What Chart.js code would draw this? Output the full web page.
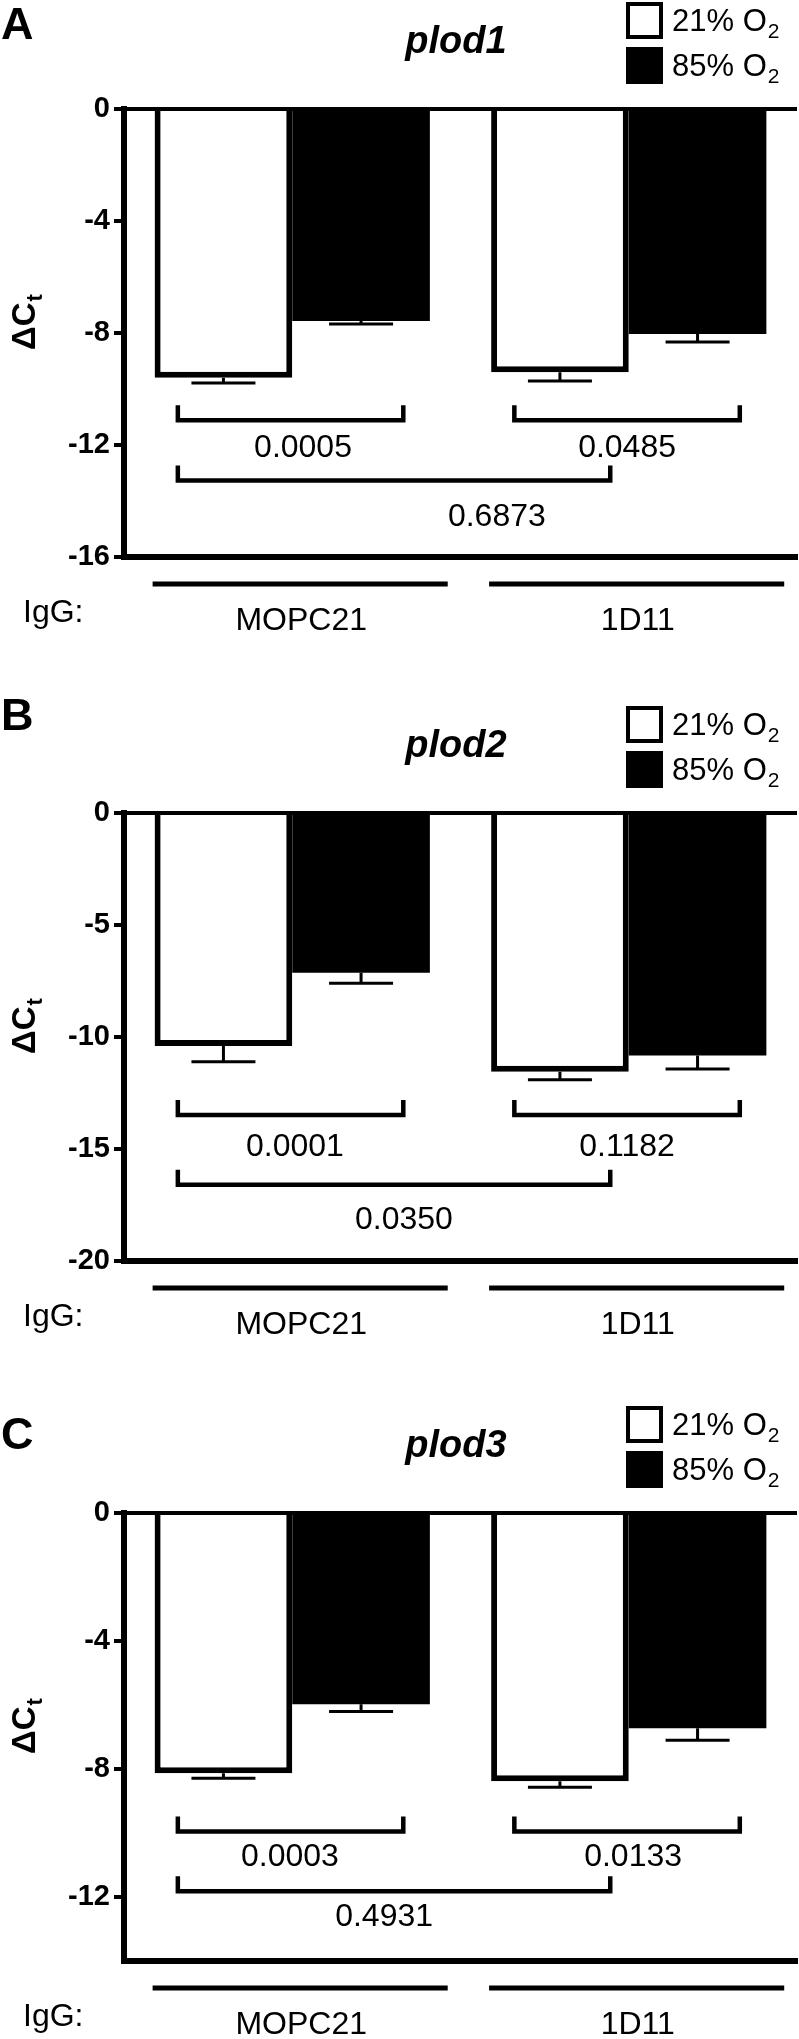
<!DOCTYPE html>
<html>
<head>
<meta charset="utf-8">
<script src="https://cdn.jsdelivr.net/npm/chart.js@4.4.1/dist/chart.umd.min.js"></script>
<style>
  html, body { margin: 0; padding: 0; background: #fff; }
  body { width: 799px; height: 2039px; position: relative; overflow: hidden; }
  canvas { position: absolute; left: 0; }
</style>
</head>
<body>
<canvas id="plod1" width="799" height="660" style="top:0px"></canvas>
<canvas id="plod2" width="799" height="700" style="top:660px"></canvas>
<canvas id="plod3" width="799" height="679" style="top:1360px"></canvas>
<script>
"use strict";

let GROUPS = ["MOPC21", "1D11"];
let SERIES = ["21% O₂", "85% O₂"];

// delta Ct (MOPC21, 1D11)
let PLOD1_21 = [-9.6, -9.4];
let PLOD1_85 = [-7.57, -8.04];
let PLOD1_21_SEM = [0.19, 0.31];
let PLOD1_85_SEM = [0.11, 0.28];
let PLOD1_P = ["0.0005", "0.0485", "0.6873"];
let PLOD1_TICKS = [0, -4, -8, -12, -16];

let PLOD2_21 = [-10.4, -11.55];
let PLOD2_85 = [-7.13, -10.83];
let PLOD2_21_SEM = [0.7, 0.36];
let PLOD2_85_SEM = [0.47, 0.6];
let PLOD2_P = ["0.0001", "0.1182", "0.0350"];
let PLOD2_TICKS = [0, -5, -10, -15, -20];

let PLOD3_21 = [-8.13, -8.38];
let PLOD3_85 = [-5.98, -6.73];
let PLOD3_21_SEM = [0.16, 0.19];
let PLOD3_85_SEM = [0.22, 0.37];
let PLOD3_P = ["0.0003", "0.0133", "0.4931"];
let PLOD3_TICKS = [0, -4, -8, -12];

let FONT = "'Liberation Sans', Arial, Helvetica, sans-serif";
Chart.defaults.font.family = FONT;
Chart.defaults.color = "#000";

let PLOT_H = 448;

let PANELS = [
    {
        canvas: "plod1", letter: "A", gene: "plod1", height: 660, padTop: 109, letterY: 39,
        low: PLOD1_21, high: PLOD1_85, lowErr: PLOD1_21_SEM, highErr: PLOD1_85_SEM,
        ticks: PLOD1_TICKS, min: -16, pvals: PLOD1_P,
        bracketY: [-11.12, -13.27], labelY: [-12.1, -14.57], labelX: [0.032, 0.995, 0.608]
    },
    {
        canvas: "plod2", letter: "B", gene: "plod2", height: 700, padTop: 153, letterY: 70,
        low: PLOD2_21, high: PLOD2_85, lowErr: PLOD2_21_SEM, highErr: PLOD2_85_SEM,
        ticks: PLOD2_TICKS, min: -20, pvals: PLOD2_P,
        bracketY: [-13.48, -16.6], labelY: [-14.9, -18.17], labelX: [0.008, 0.995, 0.332]
    },
    {
        canvas: "plod3", letter: "C", gene: "plod3", height: 679, padTop: 153, letterY: 89,
        low: PLOD3_21, high: PLOD3_85, lowErr: PLOD3_21_SEM, highErr: PLOD3_85_SEM,
        ticks: PLOD3_TICKS, min: -14, pvals: PLOD3_P,
        bracketY: [-9.95, -11.82], labelY: [-10.75, -12.62], labelX: [-0.007, 1.013, 0.273]
    }
];

function font(weight, size) {
    return weight + " " + size + "px " + FONT;
}

// text with a trailing subscript (O2, Ct)
function subText(ctx, main, sub, x, y, weight, size, subSize, drop) {
    ctx.font = font(weight, size);
    ctx.fillText(main, x, y);
    let w = ctx.measureText(main).width;
    ctx.font = font(weight, subSize);
    ctx.fillText(sub, x + w + 1, y + drop);
}

function bracket(ctx, x1, x2, y) {
    ctx.beginPath();
    ctx.moveTo(x1, y - 15);
    ctx.lineTo(x1, y);
    ctx.lineTo(x2, y);
    ctx.lineTo(x2, y - 15);
    ctx.stroke();
}

function panelPlugin(p) {
    return {
        id: "panel_" + p.canvas,
        afterDatasetsDraw: function(chart) {
            let ctx = chart.ctx;
            let ys = chart.scales.y;
            ctx.save();
            ctx.strokeStyle = "#000";
            ctx.lineWidth = 3;
            chart.data.datasets.forEach(function(ds, di) {
                chart.getDatasetMeta(di).data.forEach(function(bar, i) {
                    let y1 = ys.getPixelForValue(ds.data[i] - ds.errors[i]);
                    ctx.beginPath();
                    ctx.moveTo(bar.x, bar.y);
                    ctx.lineTo(bar.x, y1);
                    ctx.moveTo(bar.x - 32, y1);
                    ctx.lineTo(bar.x + 32, y1);
                    ctx.stroke();
                });
            });
            ctx.restore();
        },
        afterDraw: function(chart) {
            let ctx = chart.ctx;
            let xs = chart.scales.x;
            let ys = chart.scales.y;
            let area = chart.chartArea;
            ctx.save();
            ctx.fillStyle = "#000";
            ctx.strokeStyle = "#000";

            // panel letter and gene name
            ctx.textAlign = "left";
            ctx.textBaseline = "alphabetic";
            ctx.font = font("bold", 45);
            ctx.fillText(p.letter, 1, p.letterY);
            ctx.textAlign = "center";
            ctx.font = font("italic bold", 38);
            ctx.fillText(p.gene, 456, area.top - 56);

            // legend
            let tops = [area.top - 107, area.top - 62];
            ctx.textAlign = "left";
            SERIES.forEach(function(name, i) {
                ctx.fillStyle = "#000";
                ctx.fillRect(626, tops[i], 37, 37);
                if (i === 0) {
                    ctx.fillStyle = "#fff";
                    ctx.fillRect(630, tops[i] + 4, 29, 29);
                    ctx.fillStyle = "#000";
                }
                subText(ctx, name.replace("₂", ""), "2", 672, tops[i] + 29, "normal", 31, 21, 7);
            });

            // y axis title
            ctx.save();
            ctx.translate(35, (area.top + area.bottom) / 2 - 11);
            ctx.rotate(-Math.PI / 2);
            ctx.font = font("bold", 33);
            let w1 = ctx.measureText("ΔC").width;
            ctx.font = font("bold", 22);
            let w2 = ctx.measureText("t").width;
            subText(ctx, "ΔC", "t", -(w1 + w2 + 1) / 2, 0, "bold", 33, 22, 7);
            ctx.restore();

            // significance brackets
            ctx.lineWidth = 4.5;
            ctx.lineJoin = "miter";
            ctx.lineCap = "butt";
            let pairY = ys.getPixelForValue(p.bracketY[0]);
            let crossY = ys.getPixelForValue(p.bracketY[1]);
            GROUPS.forEach(function(g, i) {
                bracket(ctx, xs.getPixelForValue(i - 0.34), xs.getPixelForValue(i + 0.33), pairY);
            });
            bracket(ctx, xs.getPixelForValue(-0.34), xs.getPixelForValue(0.945), crossY);
            ctx.textAlign = "center";
            ctx.textBaseline = "middle";
            ctx.font = font("normal", 32);
            ctx.fillText(p.pvals[0], xs.getPixelForValue(p.labelX[0]), ys.getPixelForValue(p.labelY[0]));
            ctx.fillText(p.pvals[1], xs.getPixelForValue(p.labelX[1]), ys.getPixelForValue(p.labelY[0]));
            ctx.fillText(p.pvals[2], xs.getPixelForValue(p.labelX[2]), ys.getPixelForValue(p.labelY[1]));

            // group lines under the axis
            ctx.lineWidth = 5;
            GROUPS.forEach(function(g, i) {
                ctx.beginPath();
                ctx.moveTo(xs.getPixelForValue(i - 0.415), area.bottom + 27);
                ctx.lineTo(xs.getPixelForValue(i + 0.462), area.bottom + 27);
                ctx.stroke();
            });
            ctx.textAlign = "left";
            ctx.font = font("normal", 32);
            ctx.fillText("IgG:", 23, area.bottom + 56);
            ctx.restore();
        }
    };
}

function createChart(p) {
    let xH = p.height - p.padTop - PLOT_H;
    return new Chart(document.getElementById(p.canvas), {
        type: "bar",
        data: {
            labels: GROUPS,
            datasets: [{
                label: SERIES[0],
                data: p.low,
                errors: p.lowErr,
                backgroundColor: "#fff",
                borderColor: "#000",
                borderWidth: 6,
                borderSkipped: "start"
            }, {
                label: SERIES[1],
                data: p.high,
                errors: p.highErr,
                backgroundColor: "#000",
                borderWidth: 0
            }]
        },
        options: {
            responsive: false,
            animation: false,
            devicePixelRatio: 1,
            events: [],
            categoryPercentage: 0.818,
            barPercentage: 1.0,
            layout: {
                padding: { top: p.padTop, right: 2, left: 0, bottom: 0 }
            },
            plugins: {
                legend: { display: false },
                tooltip: { enabled: false }
            },
            scales: {
                x: {
                    z: 1,
                    grid: { display: false },
                    border: { display: true, color: "#000", width: 6 },
                    ticks: {
                        color: "#000",
                        padding: 37,
                        labelOffset: 9,
                        font: { size: 32 }
                    },
                    afterFit: function(s) { s.height = xH; }
                },
                y: {
                    z: 1,
                    min: p.min,
                    max: 0,
                    afterBuildTicks: function(s) {
                        s.ticks = p.ticks.map(function(v) { return { value: v }; });
                    },
                    afterFit: function(s) { s.width = 124; },
                    grid: {
                        drawOnChartArea: true,
                        lineWidth: 4,
                        tickLength: 10,
                        tickWidth: 4,
                        tickColor: "#000",
                        color: function(c) {
                            return (c.tick && c.tick.value === 0) ? "#000" : "rgba(0,0,0,0)";
                        }
                    },
                    border: { display: true, color: "#000", width: 6 },
                    ticks: {
                        color: "#000",
                        padding: 4,
                        font: { size: 29, weight: "bold" }
                    }
                }
            }
        },
        plugins: [panelPlugin(p)]
    });
}

let charts = PANELS.map(createChart);
</script>
</body>
</html>
